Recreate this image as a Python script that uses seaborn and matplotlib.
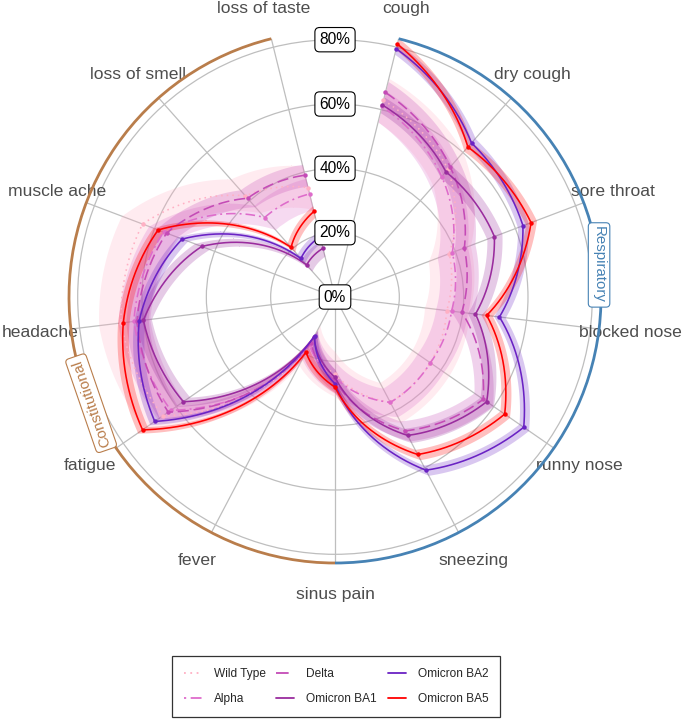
import numpy as np
import pandas as pd
import matplotlib
matplotlib.use("Agg")
import matplotlib.pyplot as plt
from matplotlib.lines import Line2D
import seaborn as sns

# ---------------- data ----------------
categories = ["cough", "dry cough", "sore throat", "blocked nose", "runny nose",
              "sneezing", "sinus pain", "fever", "fatigue", "headache",
              "muscle ache", "loss of smell", "loss of taste"]
variants = ["Wild Type", "Alpha", "Delta", "Omicron BA1", "Omicron BA2", "Omicron BA5"]

wild_type   = [63.0, 53.0, 38.0, 35.0, 36.0, 37.0, 24.0, 17.0, 65.0, 67.0, 64.0, 42.0, 35.0]
alpha       = [61.0, 50.0, 39.0, 36.5, 36.0, 37.0, 25.0, 17.0, 62.0, 63.0, 57.0, 33.0, 33.0]
delta       = [65.5, 54.0, 43.0, 39.7, 56.0, 47.0, 26.0, 16.0, 63.0, 62.0, 56.0, 41.0, 39.0]
omicron_ba1 = [61.5, 52.0, 53.0, 44.0, 57.3, 48.6, 25.0, 14.0, 57.3, 60.0, 44.3, 13.3, 15.6]
omicron_ba2 = [79.5, 64.0, 62.5, 51.5, 71.3, 60.8, 27.0, 13.6, 68.1, 61.3, 50.8, 16.0, 19.3]
omicron_ba5 = [81.0, 62.3, 65.2, 47.5, 64.1, 55.3, 28.0, 19.4, 72.7, 66.3, 58.8, 20.6, 27.4]

# half width of the confidence band (percentage points)
ci_wild_type   = [7.0, 7.0, 7.0, 7.0, 7.0, 7.0, 7.0, 7.0, 7.0, 7.0, 7.0, 7.0, 7.0]
ci_alpha       = [5.0, 5.0, 5.0, 5.0, 5.0, 5.0, 5.0, 5.0, 5.0, 5.0, 5.0, 5.0, 5.0]
ci_delta       = [3.5, 3.5, 3.5, 3.5, 3.5, 3.5, 3.5, 3.5, 3.5, 3.5, 3.5, 3.5, 3.5]
ci_omicron_ba1 = [2.5, 2.5, 2.5, 2.5, 2.5, 2.5, 2.5, 2.5, 2.5, 2.5, 2.5, 2.5, 2.5]
ci_omicron_ba2 = [1.8, 1.8, 1.8, 1.8, 1.8, 1.8, 1.8, 1.8, 1.8, 1.8, 1.8, 1.8, 1.8]
ci_omicron_ba5 = [1.8, 1.8, 1.8, 1.8, 1.8, 1.8, 1.8, 1.8, 1.8, 1.8, 1.8, 1.8, 1.8]

pct_ticks = [0, 20, 40, 60, 80]
group_names = ["Respiratory", "Constitutional"]
group_first = ["cough", "sinus pain"]
group_last = ["sinus pain", "loss of taste"]
group_label_pos = [2.5, 8.4]   # in category-index units

values = [wild_type, alpha, delta, omicron_ba1, omicron_ba2, omicron_ba5]
cis = [ci_wild_type, ci_alpha, ci_delta, ci_omicron_ba1, ci_omicron_ba2, ci_omicron_ba5]

# ---------------- style ----------------
colors = {"Wild Type": "#FFB0C4", "Alpha": "#DE6CCB", "Delta": "#C44BB6",
          "Omicron BA1": "#9A2C9E", "Omicron BA2": "#6A22C4", "Omicron BA5": "#FF0000"}
dashes = {"Wild Type": (1, 2.5), "Alpha": (1.2, 2.5, 6, 2.5), "Delta": (7, 3),
          "Omicron BA1": "", "Omicron BA2": "", "Omicron BA5": ""}
markers = {v: "o" for v in variants}
group_colors = ["#4682B4", "#B97D4B"]

sns.set_style("white")
plt.rcParams["font.family"] = ["Liberation Sans", "DejaVu Sans"]

W, H = 685, 719
fig = plt.figure(figsize=(W / 100, H / 100), dpi=100)
cx, cy, R_PX = 335, 297, 266
ax = fig.add_axes([(cx - R_PX) / W, (H - cy - R_PX) / H, 2 * R_PX / W, 2 * R_PX / H],
                  projection="polar")
ax.set_theta_zero_location("N")
ax.set_theta_direction(-1)
RMAX = 82.7

n = len(categories)
step = 2 * np.pi / n
theta = (np.arange(n) + 0.5) * step
cat_theta = dict(zip(categories, theta))

rows = []
for v, vals, ci in zip(variants, values, cis):
    for c, t, y, e in zip(categories, theta, vals, ci):
        rows.append({"variant": v, "category": c, "theta": t, "value": y,
                     "lo": y - e, "hi": y + e})
df = pd.DataFrame(rows)

# confidence ribbons
for v in variants:
    d = df[df.variant == v]
    coll = ax.fill_between(d.theta.values, d.lo.values, d.hi.values,
                           color=colors[v], alpha=0.25, lw=0, zorder=2)
    for p in coll.get_paths():
        p._interpolation_steps = 60

sns.lineplot(data=df, x="theta", y="value", hue="variant", style="variant",
             hue_order=variants, style_order=variants, palette=colors,
             dashes=dashes, markers=markers, markersize=3.2, markeredgewidth=0,
             linewidth=1.15, estimator=None, sort=False, legend=False,
             errorbar=None, ax=ax, zorder=3)

# group rings
for gname, g0, g1, gc in zip(group_names, group_first, group_last, group_colors):
    ax.plot([cat_theta[g0], cat_theta[g1]], [RMAX, RMAX], color=gc, lw=2.0,
            clip_on=False, solid_capstyle="butt", zorder=5)

for ln in ax.lines:
    ln.get_path()._interpolation_steps = 80
    ln.recache_always()

ax.set_ylim(0, RMAX)
ax.set_xticks(theta)
ax.set_xticklabels([])
ax.set_yticks(pct_ticks[1:])
ax.set_yticklabels([])
ax.grid(True, color="#BEBEBE", lw=0.9)
ax.spines["polar"].set_visible(False)
ax.set_xlabel("")
ax.set_ylabel("")
ax.tick_params(length=0)

# category labels
for c, t in zip(categories, theta):
    ax.text(t, 92.4, c, ha="center", va="center", fontsize=12.6,
            color="#4D4D4D", clip_on=False)

# percent labels
for p in pct_ticks:
    ax.text(0, p, f"{p}%", ha="center", va="center", fontsize=11.2, color="black",
            zorder=10, bbox=dict(boxstyle="round,pad=0.3,rounding_size=0.3",
                                 fc="white", ec="black", lw=0.8))

# group labels
for gname, pos, gc, rot in zip(group_names, group_label_pos, group_colors, [-90, 109]):
    ax.text((pos + 0.5) * step, RMAX, gname, ha="center", va="center",
            rotation=rot, rotation_mode="anchor", fontsize=10.8, color=gc,
            zorder=11, clip_on=False,
            bbox=dict(boxstyle="round,pad=0.25,rounding_size=0.25", fc="white",
                      ec=gc, lw=0.8))

# legend
handles = []
for v in variants:
    h = Line2D([], [], color=colors[v], lw=1.3)
    if dashes[v]:
        h.set_dashes(dashes[v])
    handles.append(h)
leg = fig.legend(handles, variants, ncol=3, loc="center",
                 bbox_to_anchor=(336 / W, 1 - 686.5 / H), frameon=True,
                 fancybox=False, edgecolor="black", fontsize=8.6,
                 handlelength=1.5, handletextpad=1.0, columnspacing=0.9,
                 borderpad=1.0, labelspacing=1.05)
leg.get_frame().set_linewidth(0.9)

fig.savefig("out.png", dpi=100)
